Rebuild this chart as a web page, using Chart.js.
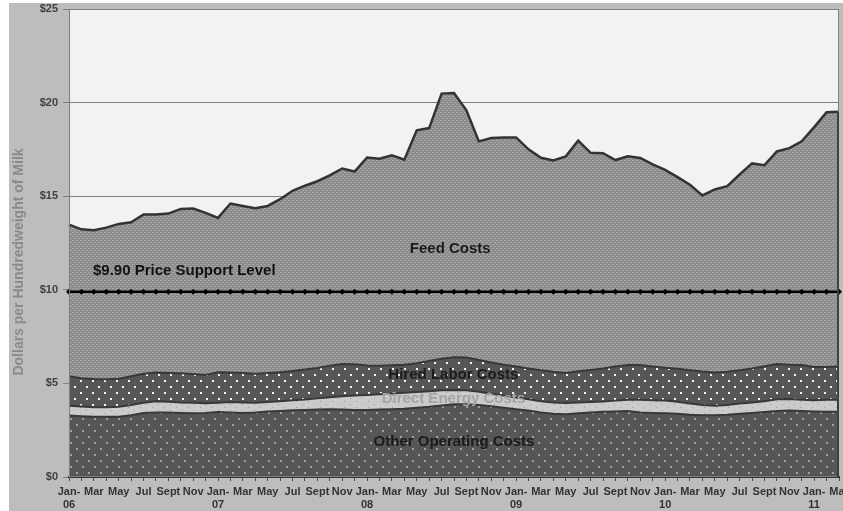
<!DOCTYPE html>
<html>
<head>
<meta charset="utf-8">
<script src="https://cdn.jsdelivr.net/npm/chart.js@4/dist/chart.umd.min.js"></script>
<style>
  html, body { margin: 0; padding: 0; background: #ffffff; }
  #wrap { width: 843px; height: 511px; position: relative; }
</style>
</head>
<body>
<div id="wrap"><canvas id="costChart"></canvas></div>
<script>
// months Jan-06 .. Mar-11
const monthLabels = [
  ['Jan-', '06'], 'Feb', 'Mar', 'Apr', 'May', 'Jun', 'Jul', 'Aug', 'Sept', 'Oct', 'Nov', 'Dec',
  ['Jan-', '07'], 'Feb', 'Mar', 'Apr', 'May', 'Jun', 'Jul', 'Aug', 'Sept', 'Oct', 'Nov', 'Dec',
  ['Jan-', '08'], 'Feb', 'Mar', 'Apr', 'May', 'Jun', 'Jul', 'Aug', 'Sept', 'Oct', 'Nov', 'Dec',
  ['Jan-', '09'], 'Feb', 'Mar', 'Apr', 'May', 'Jun', 'Jul', 'Aug', 'Sept', 'Oct', 'Nov', 'Dec',
  ['Jan-', '10'], 'Feb', 'Mar', 'Apr', 'May', 'Jun', 'Jul', 'Aug', 'Sept', 'Oct', 'Nov', 'Dec',
  ['Jan-', '11'], 'Feb', 'Mar'
];

// cost components, $/cwt
const otherCosts = [
  3.28, 3.25, 3.22, 3.22, 3.22, 3.30, 3.42, 3.45, 3.45, 3.42, 3.40, 3.42,
  3.47, 3.45, 3.42, 3.45, 3.50, 3.53, 3.56, 3.58, 3.60, 3.62, 3.60, 3.58,
  3.58, 3.60, 3.62, 3.65, 3.70, 3.75, 3.82, 3.88, 3.88, 3.85, 3.78, 3.70,
  3.62, 3.55, 3.45, 3.38, 3.35, 3.40, 3.45, 3.48, 3.50, 3.52, 3.45, 3.42,
  3.40, 3.38, 3.33, 3.30, 3.30, 3.33, 3.38, 3.42, 3.47, 3.52, 3.55, 3.52,
  3.50, 3.48, 3.48
];
const energyCosts = [
  0.52, 0.51, 0.51, 0.51, 0.53, 0.55, 0.55, 0.60, 0.57, 0.56, 0.56, 0.52,
  0.50, 0.55, 0.56, 0.52, 0.50, 0.52, 0.54, 0.56, 0.60, 0.64, 0.72, 0.78,
  0.80, 0.82, 0.84, 0.85, 0.84, 0.83, 0.81, 0.77, 0.75, 0.70, 0.67, 0.65,
  0.63, 0.60, 0.60, 0.60, 0.60, 0.58, 0.55, 0.55, 0.58, 0.60, 0.67, 0.68,
  0.68, 0.64, 0.59, 0.55, 0.50, 0.52, 0.54, 0.56, 0.58, 0.63, 0.61, 0.60,
  0.60, 0.64, 0.64
];
const laborCosts = [
  1.58, 1.52, 1.51, 1.49, 1.50, 1.53, 1.55, 1.53, 1.54, 1.56, 1.54, 1.51,
  1.63, 1.58, 1.57, 1.55, 1.55, 1.55, 1.56, 1.60, 1.62, 1.69, 1.71, 1.66,
  1.57, 1.52, 1.51, 1.50, 1.54, 1.62, 1.69, 1.75, 1.75, 1.70, 1.67, 1.65,
  1.65, 1.65, 1.65, 1.64, 1.61, 1.67, 1.72, 1.77, 1.82, 1.86, 1.86, 1.80,
  1.76, 1.76, 1.78, 1.78, 1.78, 1.77, 1.78, 1.82, 1.87, 1.89, 1.84, 1.86,
  1.78, 1.76, 1.78
];
const feedCosts = [
  8.10, 7.95, 7.94, 8.10, 8.27, 8.23, 8.50, 8.44, 8.51, 8.78, 8.84, 8.66,
  8.24, 9.03, 8.93, 8.84, 8.93, 9.24, 9.63, 9.82, 9.98, 10.16, 10.45, 10.30,
  11.12, 11.06, 11.22, 10.95, 12.44, 12.44, 14.16, 14.11, 13.21, 11.68, 11.99, 12.14,
  12.24, 11.70, 11.35, 11.29, 11.57, 12.32, 11.60, 11.50, 11.03, 11.15, 11.06, 10.80,
  10.57, 10.24, 9.91, 9.41, 9.78, 9.92, 10.46, 10.95, 10.74, 11.35, 11.57, 11.95,
  12.81, 13.60, 13.61
];
const supportPrice = 9.90;
const yTicks = [0, 5, 10, 15, 20, 25];

const FONT = "'Liberation Sans', Arial, sans-serif";
Chart.defaults.font.family = FONT;

const canvas = document.getElementById('costChart');
const ctx = canvas.getContext('2d');

// small tiled fills like the Excel patterns
function makePattern(w, h, base, dotColor, dots) {
  const tile = document.createElement('canvas');
  tile.width = w;
  tile.height = h;
  const g = tile.getContext('2d');
  g.fillStyle = base;
  g.fillRect(0, 0, w, h);
  g.fillStyle = dotColor;
  dots.forEach(([x, y, dw, dh]) => g.fillRect(x, y, dw, dh));
  return ctx.createPattern(tile, 'repeat');
}

const feedFill = makePattern(4, 4, '#8c8c8c', '#a8a8a8', [[0, 0, 2, 1], [2, 2, 2, 1]]);
const laborFill = makePattern(12, 12, '#565656', '#f4f4f4', [[2, 2, 2, 2], [8, 8, 2, 2]]);
const energyFill = makePattern(12, 6, '#cbcbcb', '#9c9c9c', [[2, 2, 1, 1], [8, 5, 1, 1]]);
const otherFill = makePattern(12, 12, '#565656', '#a0a0a0', [[4, 4, 2, 2], [10, 10, 2, 2]]);

const areaLabels = [
  { text: 'Feed Costs', idx: 30.7, val: 12.18, align: 'center', color: '#1a1a1a' },
  { text: '$9.90 Price Support Level', idx: 1.93, val: 11.0, align: 'left', color: '#111111' },
  { text: 'Hired Labor Costs', idx: 30.95, val: 5.45, align: 'center', color: '#1a1a1a' },
  { text: 'Direct Energy Costs', idx: 30.95, val: 4.17, align: 'center', color: '#a4a4a4' },
  { text: 'Other Operating Costs', idx: 31.0, val: 1.86, align: 'center', color: '#1a1a1a' }
];

const backdrop = {
  id: 'backdrop',
  beforeDraw(chart) {
    const c = chart.ctx;
    const a = chart.chartArea;
    c.save();
    c.fillStyle = '#ffffff';
    c.fillRect(0, 0, chart.width, chart.height);
    c.fillStyle = '#bdbdbd';
    c.fillRect(9, 3, chart.width - 9, chart.height - 3);
    c.fillStyle = '#f2f2f2';
    c.fillRect(a.left, a.top, a.right - a.left, a.bottom - a.top);
    c.restore();
  },
  afterDatasetsDraw(chart) {
    const c = chart.ctx;
    const a = chart.chartArea;
    const xs = chart.scales.x;
    const ys = chart.scales.y;
    c.save();
    // plot frame
    c.strokeStyle = '#7f7f7f';
    c.lineWidth = 1;
    c.strokeRect(a.left + 0.5, a.top + 0.5, a.right - a.left - 1, a.bottom - a.top - 1);
    c.strokeStyle = '#404040';
    c.lineWidth = 2;
    c.beginPath();
    c.moveTo(a.right - 1, ys.getPixelForValue(19.5));
    c.lineTo(a.right - 1, a.bottom);
    c.stroke();
    // in-chart labels
    c.font = 'bold 15px ' + FONT;
    c.textBaseline = 'middle';
    areaLabels.forEach(l => {
      c.fillStyle = l.color;
      c.textAlign = l.align;
      c.fillText(l.text, xs.getPixelForValue(l.idx), ys.getPixelForValue(l.val));
    });
    // axis title
    c.translate(19, 262);
    c.rotate(-Math.PI / 2);
    c.textAlign = 'center';
    c.fillStyle = '#8a8a8a';
    c.font = 'bold 14px ' + FONT;
    c.fillText('Dollars per Hundredweight of Milk', 0, 0);
    c.restore();
  }
};

new Chart(ctx, {
  type: 'line',
  data: {
    labels: monthLabels,
    datasets: [
      {
        label: 'Other Operating Costs',
        data: otherCosts,
        backgroundColor: otherFill,
        borderColor: '#383838',
        borderWidth: 2,
        fill: 'origin',
        pointRadius: 0,
        tension: 0
      },
      {
        label: 'Direct Energy Costs',
        data: energyCosts,
        backgroundColor: energyFill,
        borderColor: '#383838',
        borderWidth: 2,
        fill: '-1',
        pointRadius: 0,
        tension: 0
      },
      {
        label: 'Hired Labor Costs',
        data: laborCosts,
        backgroundColor: laborFill,
        borderColor: '#383838',
        borderWidth: 2,
        fill: '-1',
        pointRadius: 0,
        tension: 0
      },
      {
        label: 'Feed Costs',
        data: feedCosts,
        backgroundColor: feedFill,
        borderColor: '#333333',
        borderWidth: 2.5,
        fill: '-1',
        pointRadius: 0,
        tension: 0
      },
      {
        label: '$9.90 Price Support Level',
        data: monthLabels.map(() => supportPrice),
        stack: 'support',
        order: -1,
        borderColor: '#000000',
        backgroundColor: '#000000',
        borderWidth: 2.5,
        fill: false,
        pointStyle: 'rectRot',
        pointRadius: 3,
        pointBorderWidth: 0,
        tension: 0
      }
    ]
  },
  options: {
    responsive: true,
    maintainAspectRatio: false,
    animation: false,
    layout: { padding: { left: 0, top: 9, right: 3, bottom: 0 } },
    plugins: {
      legend: { display: false },
      tooltip: { enabled: true }
    },
    scales: {
      x: {
        offset: false,
        grid: {
          drawOnChartArea: false,
          drawTicks: true,
          tickLength: 4,
          color: '#4a4a4a'
        },
        border: { display: true, color: '#333333', width: 2 },
        ticks: {
          autoSkip: false,
          maxRotation: 0,
          minRotation: 0,
          padding: 4,
          color: '#333333',
          font: { size: 11, weight: 'bold' },
          callback: function (value, index) {
            return index % 2 === 0 ? this.getLabelForValue(value) : '';
          }
        },
        afterFit(scale) {
          scale.height = 34;
          scale.paddingLeft = 0;
          scale.paddingRight = 0;
        }
      },
      y: {
        stacked: true,
        min: 0,
        max: 25,
        afterBuildTicks(scale) {
          scale.ticks = yTicks.map(v => ({ value: v }));
        },
        grid: {
          color: '#7f7f7f',
          lineWidth: 1,
          tickLength: 6
        },
        border: { display: true, color: '#7f7f7f', width: 1 },
        ticks: {
          padding: 5,
          color: '#404040',
          font: { size: 11, weight: 'bold' },
          callback: v => '$' + v
        },
        afterFit(scale) {
          scale.width = 69;
          scale.paddingTop = 0;
          scale.paddingBottom = 0;
        }
      }
    }
  },
  plugins: [backdrop]
});
</script>
</body>
</html>
